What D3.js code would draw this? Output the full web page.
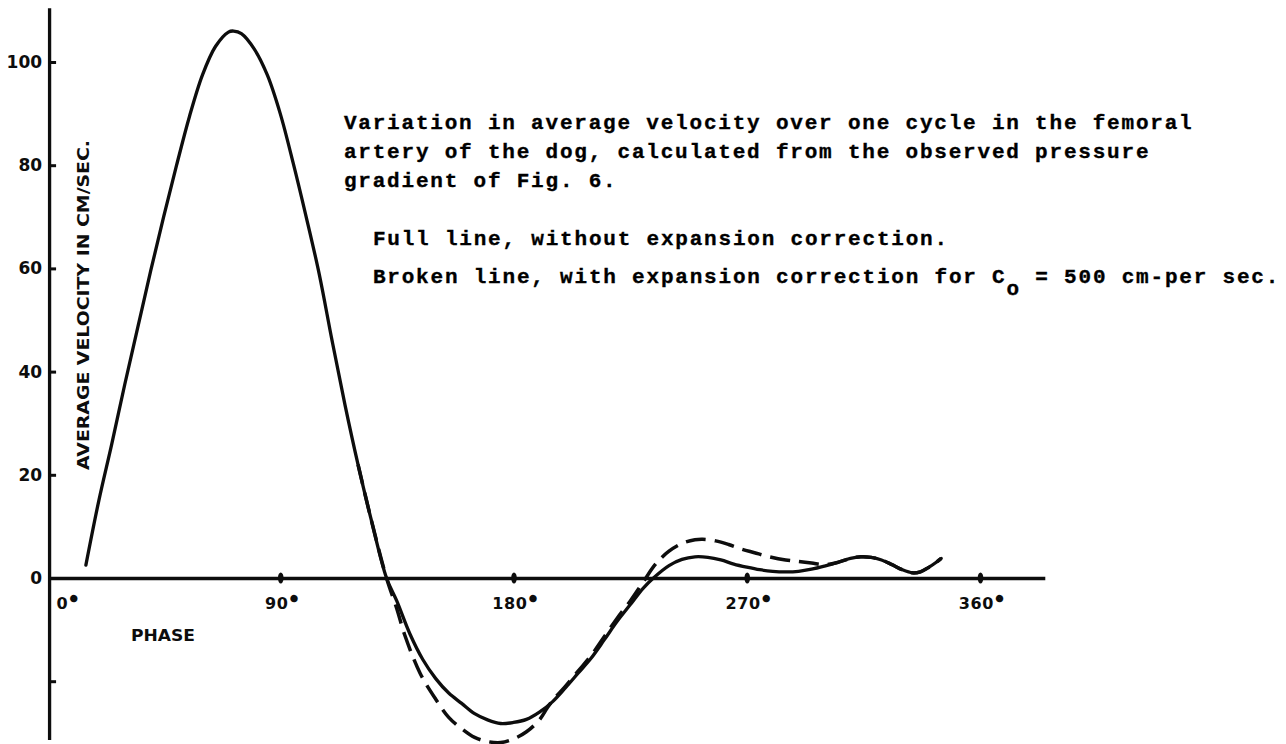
<!DOCTYPE html>
<html>
<head>
<meta charset="utf-8">
<script src="https://cdn.jsdelivr.net/npm/d3@7"></script>
<style>
  html, body { margin: 0; padding: 0; background: #ffffff; }
  svg { display: block; }
</style>
</head>
<body>
<svg id="chart" width="1286" height="744"></svg>
<script>
// Phase (degrees) and average velocity (cm/sec) for the full line
const phaseFull = [15, 20, 25, 30, 35, 40, 45, 50, 55, 60, 65, 70, 72, 75, 80, 85, 90, 95, 100, 105,
  110, 115, 120, 125, 131, 135, 140, 145, 150, 155, 160, 165, 170, 175, 180, 185, 190, 195, 200, 205,
  210, 215, 220, 225, 230, 234, 240, 245, 250, 255, 260, 265, 270, 275, 280, 285, 290, 295, 300, 305,
  310, 314, 318, 322, 326, 330, 334, 337, 340, 343, 345];
const velocityFull = [2.5, 15, 26, 37.5, 48.5, 59.5, 70, 80, 89.5, 97.5, 103, 105.8, 106, 105.5, 102.5, 97.5, 90, 80.4, 70, 59,
  46, 33.5, 22, 11.5, 0, -4.5, -10.8, -15.8, -19.5, -22.3, -24.3, -26.3, -27.5, -28.2, -28, -27.4, -26, -24, -21.3, -18.4,
  -15.5, -12, -8.4, -5.2, -2, 0, 2.4, 3.6, 4.1, 4.0, 3.5, 2.7, 2.1, 1.6, 1.3, 1.2, 1.3, 1.7, 2.3, 3.0,
  3.8, 4.1, 4.0, 3.5, 2.6, 1.6, 1.0, 1.2, 2.0, 3.0, 3.8];

// Broken line: with expansion correction (coincides with the full line over the peak)
const phaseBroken = [120, 125, 131, 135, 138, 144, 150, 155, 160, 165, 170, 175, 180, 185, 190, 193, 195, 200, 205, 210,
  215, 220, 225, 230, 235, 240, 245, 250, 253, 258, 263, 268, 273, 278, 285, 290, 295, 300, 305, 310,
  314, 318, 322, 326, 330, 334, 337, 340, 343, 345];
const velocityBroken = [22, 11.5, 0, -6, -11, -18.5, -23.5, -27, -29.2, -30.9, -31.7, -31.9, -31.2, -29.8, -27.5, -25.2, -23.8, -21.0, -18.0, -15.0,
  -11.4, -7.8, -4.5, -0.8, 2.8, 5.2, 6.7, 7.4, 7.5, 7.2, 6.5, 5.6, 4.9, 4.2, 3.5, 3.2, 2.9, 2.6, 3.0, 3.8,
  4.1, 4.0, 3.5, 2.6, 1.6, 1.0, 1.2, 2.0, 3.0, 3.8];

const yTickValues = [-20, 0, 20, 40, 60, 80, 100];
const yTickLabels = ["", "0", "20", "40", "60", "80", "100"];
const xTickValues = [0, 90, 180, 270, 360];
const xTickLabels = ["0", "90", "180", "270", "360"];
const degreeSign = "\u00b0";

const yAxisTitle = "AVERAGE VELOCITY IN CM/SEC.";
const xAxisTitle = "PHASE";

const captionLines = [
  "Variation in average velocity over one cycle in the femoral",
  "artery of the dog, calculated from the observed pressure",
  "gradient of Fig. 6."
];
const legendFull = "Full line, without expansion correction.";
const legendBrokenStart = "Broken line, with expansion correction for C";
const legendBrokenSub = "o";
const legendBrokenEnd = " = 500 cm-per sec.";

const svg = d3.select("#chart");
const ink = "#0d0d0d";

const x = d3.scaleLinear().domain([0, 360]).range([47, 980]);
const y = d3.scaleLinear().domain([0, 100]).range([578, 62]);

// Axis scales that carry the same mapping but span the full drawn axis lines
const xAxisScale = x.copy().domain([0.8, 385]).range([x(0.8), x(385)]);
const yAxisScale = y.copy().domain([-31.3, 110.5]).range([y(-31.3), y(110.5)]);

const tickFont = "'DejaVu Sans', sans-serif";

// Y axis: ticks point inward, labels on the left
const yAxis = d3.axisLeft(yAxisScale)
  .tickValues(yTickValues)
  .tickSizeInner(-7)
  .tickSizeOuter(0)
  .tickPadding(7)
  .tickFormat((d, i) => yTickLabels[i]);

const gy = svg.append("g")
  .attr("transform", `translate(${x(0.8)},0)`)
  .call(yAxis);
gy.select(".domain").attr("stroke", ink).attr("stroke-width", 3.3);
gy.selectAll(".tick line").attr("stroke", ink).attr("stroke-width", 3);
gy.selectAll(".tick text")
  .attr("fill", ink)
  .attr("font-family", tickFont)
  .attr("font-weight", "bold")
  .attr("font-size", 17)
  .attr("x", -7);

// X axis along zero velocity
const xAxis = d3.axisBottom(xAxisScale)
  .tickValues(xTickValues)
  .tickSize(0)
  .tickPadding(20)
  .tickFormat((d, i) => xTickLabels[i]);

const gx = svg.append("g")
  .attr("transform", `translate(0,${y(0)})`)
  .call(xAxis);
gx.select(".domain").attr("stroke", ink).attr("stroke-width", 3.3);
const xLabels = gx.selectAll(".tick text")
  .attr("fill", ink)
  .attr("font-family", tickFont)
  .attr("font-weight", "bold")
  .attr("font-size", 16)
  .attr("letter-spacing", 0.6)
  .attr("dx", d => d === 0 ? 20 : 1)
  .attr("y", 31)
  .attr("dy", 0);
// degree marks drawn as solid dots, as in the hand lettering
xLabels.append("tspan")
  .attr("dx", 1.5)
  .attr("dy", -1)
  .attr("stroke", ink)
  .attr("stroke-width", 2.2)
  .text(degreeSign);
// small blob marks on the phase axis
gx.selectAll(".tick").filter(d => d !== 0)
  .append("ellipse")
  .attr("cx", 0).attr("cy", 0)
  .attr("rx", 2.8).attr("ry", 5.5)
  .attr("fill", ink);

// Axis titles
svg.append("text")
  .attr("transform", `translate(${89},${305}) rotate(-90)`)
  .attr("text-anchor", "middle")
  .attr("font-family", tickFont)
  .attr("font-weight", "bold")
  .attr("font-size", 15)
  .attr("textLength", 330)
  .attr("lengthAdjust", "spacingAndGlyphs")
  .attr("fill", ink)
  .text(yAxisTitle);

svg.append("text")
  .attr("x", 131).attr("y", 641)
  .attr("font-family", tickFont)
  .attr("font-weight", "bold")
  .attr("font-size", 15)
  .attr("textLength", 64)
  .attr("lengthAdjust", "spacingAndGlyphs")
  .attr("fill", ink)
  .text(xAxisTitle);

// Curves
const line = d3.line()
  .x(d => x(d[0]))
  .y(d => y(d[1]))
  .curve(d3.curveCatmullRom.alpha(0.5));

const fullPts = phaseFull.map((p, i) => [p, velocityFull[i]]);
const brokenPts = phaseBroken.map((p, i) => [p, velocityBroken[i]]);

svg.append("path")
  .datum(brokenPts)
  .attr("d", line)
  .attr("fill", "none")
  .attr("stroke", ink)
  .attr("stroke-width", 3.5)
  .attr("stroke-dasharray", "20 9")
  .attr("stroke-linecap", "butt");

svg.append("path")
  .datum(fullPts)
  .attr("d", line)
  .attr("fill", "none")
  .attr("stroke", ink)
  .attr("stroke-width", 3.3)
  .attr("stroke-linejoin", "round")
  .attr("stroke-linecap", "round");

// Typewritten caption, fixed character pitch
const pitch = 14.4;
const typeFont = "'Liberation Mono', 'DejaVu Sans Mono', monospace";
function typeLine(str, x0, baseline) {
  const xs = Array.from(str).map((c, i) => (x0 + i * pitch + pitch / 2).toFixed(1)).join(" ");
  svg.append("text")
    .attr("x", xs)
    .attr("y", baseline)
    .attr("text-anchor", "middle")
    .attr("font-family", typeFont)
    .attr("font-weight", "bold")
    .attr("font-size", 21)
    .attr("fill", "#000")
    .attr("stroke", "#000")
    .attr("stroke-width", 0.35)
    .attr("xml:space", "preserve")
    .text(str);
}

const captionX = 343;
const captionBaselines = [129, 158, 187];
captionLines.forEach((s, i) => typeLine(s, captionX, captionBaselines[i]));

const legendX = 372;
typeLine(legendFull, legendX, 245);
typeLine(legendBrokenStart, legendX, 283);
typeLine(legendBrokenSub, legendX + legendBrokenStart.length * pitch, 295);
typeLine(legendBrokenEnd, legendX + (legendBrokenStart.length + 1) * pitch, 283);
</script>
</body>
</html>
